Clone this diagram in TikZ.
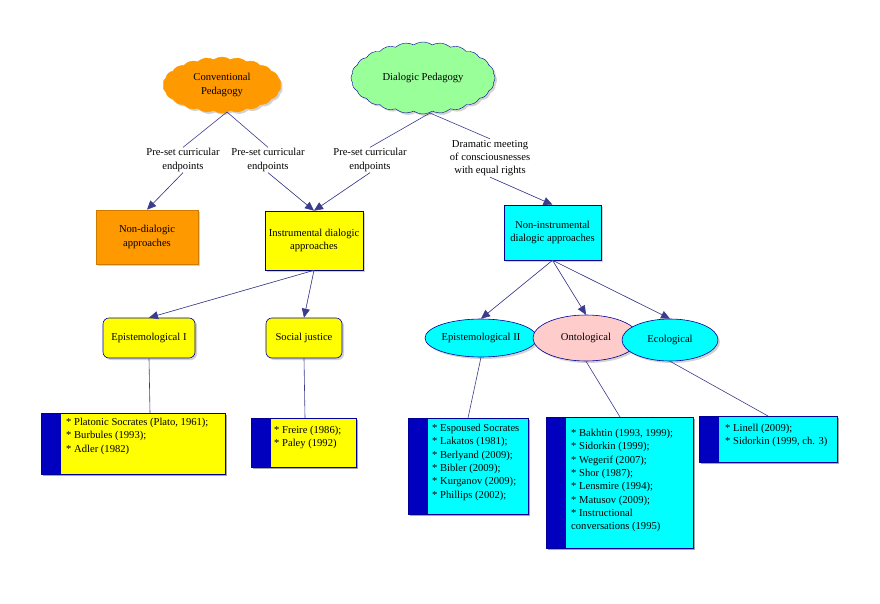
\documentclass[tikz,border=0pt]{standalone}
\usepackage{fontspec}
\setmainfont{Liberation Serif}
\usetikzlibrary{shapes.symbols,shapes.geometric,shadows,arrows.meta}
\definecolor{cy}{RGB}{0,255,255}
\definecolor{ye}{RGB}{255,255,0}
\definecolor{or}{RGB}{255,153,0}
\definecolor{gr}{RGB}{153,255,153}
\definecolor{pk}{RGB}{255,204,204}
\definecolor{nb}{RGB}{0,0,190}
\definecolor{lc}{RGB}{60,60,140}
\begin{document}
\begin{tikzpicture}[x=1pt,y=-1pt,font=\fontsize{10.6}{13.3}\selectfont,
  ln/.style={draw=lc,line width=0.6pt},
  ar/.style={ln,-{Triangle[length=9pt,width=8pt]},fill=lc},
  sh/.style={drop shadow={shadow xshift=2pt,shadow yshift=-2pt,opacity=0.35}},
  box/.style={draw=blue!60!black,line width=0.6pt,sh,align=center,inner sep=0pt},
  lab/.style={align=center,fill=white,inner sep=1pt},
  ref/.style={align=left,anchor=north west,inner sep=0pt}]
\useasboundingbox (0,0) rectangle (880,604);
\fill[white] (0,0) rectangle (880,604);
% clouds
\node[cloud,cloud puffs=22,cloud puff arc=70,aspect=2.2,draw=or,fill=or,minimum width=118pt,minimum height=56pt,sh,align=center] (conv) at (222,85) {Conventional\\Pedagogy};
\node[cloud,cloud puffs=24,cloud puff arc=70,aspect=2,draw=blue!60!black,fill=gr,minimum width=144pt,minimum height=72pt,sh] (dial) at (423,78) {Dialogic Pedagogy};
% labels
\node[lab] (l1) at (183,160) {Pre-set curricular\\endpoints};
\node[lab] (l2) at (268,160) {Pre-set curricular\\endpoints};
\node[lab] (l3) at (370,160) {Pre-set curricular\\endpoints};
\node[lab] (l4) at (490,158) {Dramatic meeting\\of consciousnesses\\with equal rights};
% boxes
\node[box,fill=or,draw=or!80!black,minimum width=102pt,minimum height=54pt] (nd) at (147,237) {Non-dialogic\\approaches};
\node[box,fill=ye,minimum width=98pt,minimum height=59pt] (ins) at (314,240.5) {Instrumental dialogic\\approaches};
\node[box,fill=cy,minimum width=97pt,minimum height=55pt] (nin) at (552.5,232.5) {Non-instrumental\\dialogic approaches};
\node[box,fill=ye,rounded corners=6pt,minimum width=92pt,minimum height=40pt] (e1) at (149,338) {Epistemological I};
\node[box,fill=ye,rounded corners=6pt,minimum width=76pt,minimum height=40pt] (sj) at (304,338) {Social justice};
\node[box,ellipse,fill=cy,minimum width=112pt,minimum height=38pt,inner sep=0pt] (e2) at (481,338) {Epistemological II};
\node[box,ellipse,fill=pk,minimum width=106pt,minimum height=46pt] (on) at (586,338) {Ontological};
\node[box,ellipse,fill=cy,minimum width=96pt,minimum height=42pt] (ec) at (670,340) {Ecological};
% reference boxes
\newcommand{\refbox}[6]{%
 \fill[black,opacity=0.35] (#1+2,#2+2) rectangle (#3+2,#4+2);
 \filldraw[fill=#6,draw=blue!60!black,line width=0.6pt] (#1,#2) rectangle (#3,#4);
 \fill[nb] (#1,#2) rectangle (#1+20,#4);
 \draw[blue!60!black,line width=0.6pt] (#1,#2) rectangle (#3,#4);}
\refbox{41}{413}{225}{474}{r1}{ye}
\node[ref] (r1) at (66,418) {* Platonic Socrates (Plato, 1961);\\* Burbules (1993);\\* Adler (1982)};
\coordinate (r1t) at (150,413);
\refbox{251}{418}{356}{467}{r2}{ye}
\node[ref] (r2) at (274,426) {* Freire (1986);\\* Paley (1992)};
\coordinate (r2t) at (305,418);
\refbox{408}{418}{528}{514}{r3}{cy}
\node[ref] (r3) at (432,424) {* Espoused Socrates\\* Lakatos (1981);\\* Berlyand (2009);\\* Bibler (2009);\\* Kurganov (2009);\\* Phillips (2002);};
\coordinate (r3t) at (468,418);
\refbox{546}{417}{693}{548}{r4}{cy}
\node[ref] (r4) at (571,429) {* Bakhtin (1993, 1999);\\* Sidorkin (1999);\\* Wegerif (2007);\\* Shor (1987);\\* Lensmire (1994);\\* Matusov (2009);\\* Instructional\\conversations (1995)};
\coordinate (r4t) at (620,417);
\refbox{699}{416}{837}{462}{r5}{cy}
\node[ref] (r5) at (725,424) {* Linell (2009);\\* Sidorkin (1999, ch. 3)};
\coordinate (r5t) at (768,416);
% connectors
\coordinate (cb) at (227,112);
\coordinate (db) at (430,113);
\draw[ln] (cb) -- (l1.north);
\draw[ln] (cb) -- (l2.north);
\draw[ln] (db) -- (l3.north);
\draw[ln] (db) -- (l4.north);
\draw[ar] (l1.south) -- (nd.north);
\draw[ar] (l2.south) -- (ins.north);
\draw[ar] (l3.south) -- (ins.north);
\draw[ar] (l4.south) -- (nin.north);
\draw[ar] (ins.south) -- (e1.north);
\draw[ar] (ins.south) -- (sj.north);
\draw[ar] (nin.south) -- (e2.north);
\draw[ar] (nin.south) -- (on.north);
\draw[ar] (nin.south) -- (ec.north);
\draw[ln] (e1.south) -- (r1t);
\draw[ln] (sj.south) -- (r2t);
\draw[ln] (e2.south) -- (r3t);
\draw[ln] (on.south) -- (r4t);
\draw[ln] (ec.south) -- (r5t);
\end{tikzpicture}
\end{document}
